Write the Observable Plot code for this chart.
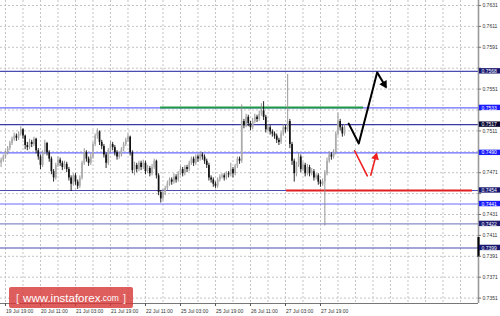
<!DOCTYPE html>
<html>
<head>
<meta charset="utf-8">
<script src="https://cdn.jsdelivr.net/npm/d3@7"></script>
<script src="https://cdn.jsdelivr.net/npm/@observablehq/plot@0.6"></script>
<style>
  html, body { margin: 0; padding: 0; background: #fff; }
  #wrap { position: relative; width: 500px; height: 316px; overflow: hidden; }
  #wm { position: absolute; left: 9px; top: 287px; width: 124px; height: 21px;
        background: rgba(214, 52, 52, 0.80); border-radius: 2px; color: #fff;
        font-family: "Liberation Sans", Arial, sans-serif; white-space: nowrap;
        display: flex; align-items: center; justify-content: center; }
  #wm .b { font-size: 11px; opacity: 0.85; margin: 0 4px; }
  #wm .w { font-size: 11.5px; }
  #wm .c { font-size: 8.5px; }
</style>
</head>
<body>
<div id="wrap"><div id="wm"><span class="b">[</span><span class="w">www.instaforex</span><span class="c">.com</span><span class="b">]</span></div></div>
<script>
// ---- Data (prices in pips: 7483 = 0.7483), H1 bars from 19 Jul ~17:00 ----
const firstOpen = 7480;
const closeP = [7483,7486,7490,7494,7499,7503,7506,7504,7508,7512,
7506,7497,7495,7500,7498,7503,7492,7486,7478,7490,
7499,7490,7484,7472,7466,7478,7483,7480,7476,7479,
7474,7466,7460,7468,7462,7458,7466,7480,7490,7484,
7480,7486,7498,7506,7510,7500,7496,7488,7480,7492,
7498,7495,7490,7486,7488,7493,7498,7502,7505,7490,
7473,7478,7474,7480,7476,7480,7472,7475,7470,7476,
7482,7468,7452,7446,7452,7456,7460,7464,7462,7467,
7464,7470,7474,7470,7476,7474,7480,7484,7480,7486,
7484,7488,7486,7482,7478,7466,7464,7460,7458,7464,
7467,7468,7466,7470,7469,7474,7470,7477,7484,7482,
7520,7516,7524,7518,7514,7520,7524,7522,7527,7530,
7524,7512,7514,7510,7508,7506,7502,7500,7508,7514,
7512,7520,7498,7482,7470,7478,7486,7474,7478,7470,
7476,7470,7472,7466,7468,7462,7460,7462,7470,7482,
7488,7486,7490,7508,7520,7514,7508,7514];
const highP = [7485,7488,7492,7496,7501,7505,7509,7508,7510,7515,
7513,7507,7500,7503,7502,7505,7504,7494,7488,7492,
7502,7500,7492,7486,7474,7480,7486,7485,7482,7482,
7481,7476,7468,7470,7470,7464,7468,7482,7494,7492,
7486,7489,7500,7508,7513,7511,7502,7498,7490,7494,
7501,7500,7497,7492,7491,7495,7500,7504,7508,7506,
7492,7481,7480,7482,7482,7483,7482,7478,7477,7479,
7484,7483,7470,7454,7455,7458,7463,7466,7466,7470,
7469,7472,7477,7476,7478,7478,7482,7486,7486,7488,
7488,7491,7490,7488,7484,7480,7468,7466,7462,7466,
7469,7470,7470,7472,7472,7480,7476,7479,7486,7486,
7536,7522,7527,7526,7520,7523,7527,7526,7530,7537,
7539,7526,7517,7516,7512,7510,7508,7504,7510,7517,
7516,7565,7522,7500,7484,7481,7490,7488,7481,7480,
7479,7478,7475,7474,7470,7470,7464,7465,7473,7485,
7491,7490,7493,7510,7528,7522,7516,7517];
const lowP = [7476,7481,7484,7488,7492,7497,7501,7501,7502,7506,
7503,7493,7492,7493,7495,7496,7489,7483,7474,7476,
7488,7487,7481,7469,7462,7464,7476,7477,7473,7474,
7471,7463,7453,7458,7459,7455,7456,7464,7478,7481,
7477,7478,7484,7496,7503,7497,7493,7485,7475,7478,
7490,7492,7487,7483,7484,7486,7491,7496,7500,7487,
7470,7468,7471,7472,7473,7474,7469,7470,7467,7468,
7474,7465,7449,7442,7444,7449,7454,7458,7459,7460,
7461,7462,7468,7467,7468,7471,7472,7478,7477,7478,
7481,7482,7483,7479,7475,7463,7461,7457,7456,7456,
7462,7465,7463,7464,7466,7467,7466,7468,7475,7479,
7480,7513,7514,7515,7511,7512,7518,7519,7520,7525,
7521,7509,7510,7507,7505,7503,7499,7497,7498,7506,
7509,7510,7494,7478,7462,7467,7476,7471,7472,7467,
7468,7467,7468,7463,7464,7459,7457,7458,7420,7468,
7480,7483,7484,7488,7506,7511,7505,7506];

// time axis labels and the bar index they sit on
const timeLabels = ["19 Jul 19:00","20 Jul 11:00","21 Jul 03:00","21 Jul 19:00","22 Jul 11:00",
                    "25 Jul 03:00","25 Jul 19:00","26 Jul 11:00","27 Jul 03:00","27 Jul 19:00"];
const timeIdx = [2,18,34,50,66,82,98,114,130,146];

// price axis tick labels
const priceTicks = ["0.7631","0.7611","0.7591","0.7571","0.7551","0.7531","0.7511","0.7491",
                    "0.7471","0.7451","0.7431","0.7411","0.7391","0.7371","0.7351"];

// horizontal levels
const levels = [0.7568, 0.7533, 0.7517, 0.7490, 0.7454, 0.7441, 0.7422, 0.7399];
const levelTone = ["dark","bright","deep","bright","dark","bright","mid","dark"];

// drawn objects (bar index, price)
const greenLine = {y: 0.75335, x1: 72.9, x2: 165.7};
const redLine = {y: 0.7454, x1: 130.5, x2: 215.5};
const blackPath = [[158.9, 0.7518], [163.5, 0.7499], [171.9, 0.7567]];
const blackHead = {x1: 171.9, y1: 0.7567, x2: 175.9, y2: 0.7553};
const redPath = [[161.6, 0.7492], [167.4, 0.7468]];
const redHead = {x1: 168.9, y1: 0.7468, x2: 171.6, y2: 0.7489};
const bidMarker = {y1: 0.7409, y2: 0.7390};

// ---- Build ----
const candles = closeP.map((c, i) => ({
  i, o: (i ? closeP[i - 1] : firstOpen) / 1e4, c: c / 1e4, h: highP[i] / 1e4, l: lowP[i] / 1e4
}));
candles.forEach(d => d.up = d.c >= d.o);

const xMin = -0.274, xMax = 218.24;
const yMin = 0.734583, yMax = 0.763578;
const pxY = (yMax - yMin) / 303;          // price per pixel
const pxX = (xMax - xMin) / 478;          // index per pixel
const gridX = d3.range(2, xMax - 1, 8);
const tickVals = priceTicks.map(Number);
const toneLine = {dark: "#4a4ab0", bright: "#6a6aff", deep: "#3a3aa0", mid: "#8a8ac8"};
const toneBox = {dark: "#16166e", bright: "#1a1aff", deep: "#05052e", mid: "#1c1c70"};
const lv = levels.map((v, k) => ({v, tone: levelTone[k]}));
// tick labels hidden behind a level box (as on the terminal)
const visTicks = tickVals.map((v, k) => ({v, t: priceTicks[k]}))
  .filter(d => !levels.some(l => Math.abs(l - d.v) < 5.5 * pxY));
const font = "Liberation Sans, Arial, sans-serif";

// filled arrowheads: placed just behind each tip, rotated along the segment
function head(h) {
  const dxp = (h.x2 - h.x1) / pxX, dyp = -(h.y2 - h.y1) / pxY;
  const len = Math.hypot(dxp, dyp);
  const back = 3.2 / len;
  return {
    x: h.x2 - (h.x2 - h.x1) * back,
    y: h.y2 - (h.y2 - h.y1) * back,
    a: Math.atan2(dxp, -dyp) * 180 / Math.PI
  };
}
const heads = [{...head(blackHead), c: "#000", r: 4.2}, {...head(redHead), c: "#ee2020", r: 3.6}];

const chart = Plot.plot({
  width: 500, height: 316,
  marginLeft: 0, marginRight: 22, marginTop: 0, marginBottom: 13,
  x: {domain: [xMin, xMax], axis: null},
  y: {domain: [yMin, yMax], axis: null},
  style: {background: "white", fontFamily: font, overflow: "visible"},
  marks: [
    Plot.ruleX(gridX, {stroke: "#c4c4c4", strokeDasharray: "2,2"}),
    Plot.ruleY(tickVals, {stroke: "#c4c4c4", strokeDasharray: "2,2"}),
    Plot.ruleY(lv, {y: "v", stroke: d => toneLine[d.tone], strokeWidth: 1.1}),
    Plot.ruleY([greenLine], {y: "y", x1: "x1", x2: "x2", stroke: "#1f9a44", strokeWidth: 2}),
    Plot.ruleY([redLine], {y: "y", x1: "x1", x2: "x2", stroke: "#e01e1e", strokeWidth: 2}),
    // candles
    Plot.ruleX(candles, {x: "i", y1: "l", y2: "h", stroke: d => d.up ? "#8c8c8c" : "#111", strokeWidth: 0.9}),
    Plot.ruleX(candles, {x: "i", y1: "o", y2: "c", stroke: d => d.up ? "#acacac" : "#111", strokeWidth: 1.7}),
    // forecast arrows
    Plot.line(blackPath, {x: d => d[0], y: d => d[1], stroke: "#000", strokeWidth: 2}),
    Plot.link([blackHead], {x1: "x1", y1: "y1", x2: "x2", y2: "y2", stroke: "#000", strokeWidth: 2}),
    Plot.line(redPath, {x: d => d[0], y: d => d[1], stroke: "#ee2020", strokeWidth: 1.6}),
    Plot.link([redHead], {x1: "x1", y1: "y1", x2: "x2", y2: "y2", stroke: "#ee2020", strokeWidth: 1.6}),
    Plot.dot(heads, {x: "x", y: "y", symbol: "triangle", r: "r", rotate: "a", fill: "c", stroke: "none"}),
    // right axis
    Plot.ruleX([xMax], {stroke: "#9a9a9a", strokeWidth: 1.6}),
    Plot.ruleX([bidMarker], {x: xMax, y1: "y1", y2: "y2", stroke: "#000", strokeWidth: 2.2}),
    Plot.ruleY(tickVals, {x1: xMax, x2: xMax + 1.4, stroke: "#777"}),
    Plot.text(visTicks, {x: xMax + 1.8, y: "v", text: "t", textAnchor: "start", fontSize: 5, fill: "#333"}),
    Plot.rect(lv, {x1: xMax + 0.4, x2: xMax + 10.5, y1: d => d.v - 2.7 * pxY, y2: d => d.v + 2.7 * pxY,
                   fill: d => toneBox[d.tone]}),
    Plot.text(lv, {x: xMax + 1.4, y: "v", text: d => d.v.toFixed(4), textAnchor: "start",
                   fontSize: 5, fill: "#fff"}),
    // bottom axis
    Plot.ruleY([yMin], {stroke: "#777", strokeWidth: 1.2}),
    Plot.ruleX(timeIdx, {y1: yMin, y2: yMin - 3 * pxY, stroke: "#555"}),
    Plot.text(timeIdx, {x: d => d, y: yMin - 8 * pxY, text: (d, k) => timeLabels[k], textAnchor: "start",
                        dx: 0.5, fontSize: 5, fill: "#333"})
  ]
});
const wrap = document.getElementById("wrap");
wrap.insertBefore(chart, wrap.firstChild);
chart.style.position = "absolute";
chart.style.left = "0";
chart.style.top = "0";
</script>
</body>
</html>
